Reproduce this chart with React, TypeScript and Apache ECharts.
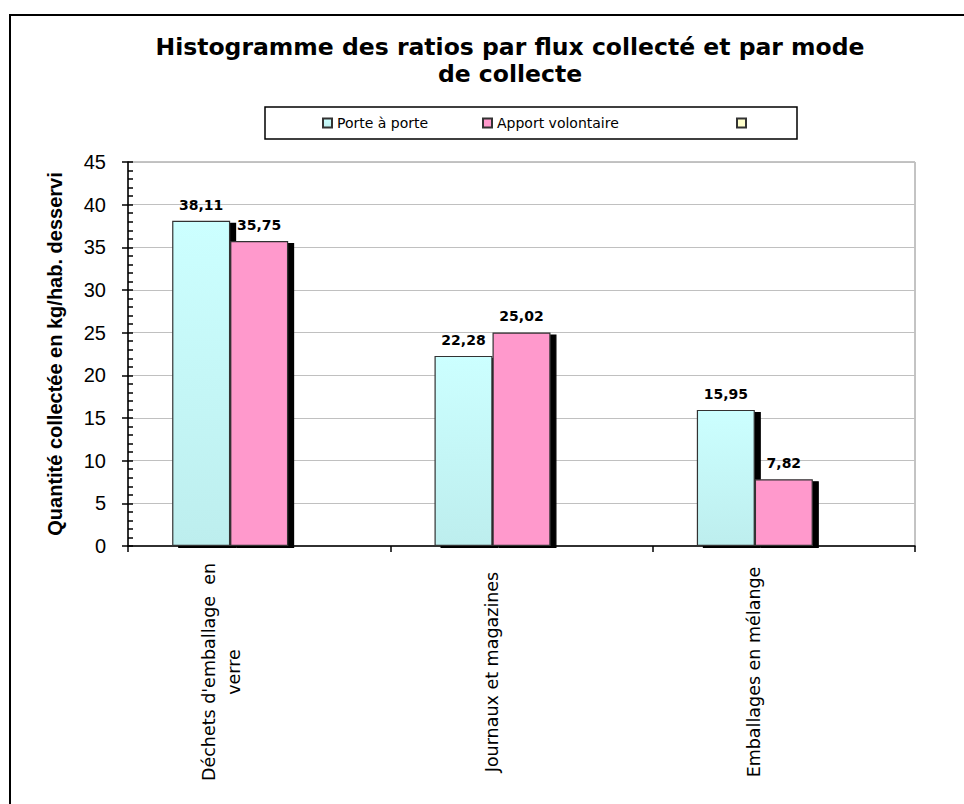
import React, { useEffect, useRef } from "react";
import * as echarts from "echarts";

const categories = ["Déchets d'emballage  en\nverre", "Journaux et magazines", "Emballages en mélange"];
const seriesNames = ["Porte à porte", "Apport volontaire", " "];
const porteAPorte = [38.11, 22.28, 15.95];
const apportVolontaire = [35.75, 25.02, 7.82];
const serie3: (number | null)[] = [null, null, null];
const yTicks = { min: 0, max: 45, interval: 5 };
const titleLines = ["Histogramme des ratios par flux collecté et par mode", "de collecte"];
const yAxisName = "Quantité collectée en kg/hab. desservi";

export default function App() {
  const ref = useRef<HTMLDivElement>(null);
  useEffect(() => {
    const chart = echarts.init(ref.current!, null, { renderer: "svg" });
    const fmt = (p: any) => String(p.value).replace(".", ",");
    const barCommon = {
      type: "bar",
      barWidth: 58,
      barGap: "0%",
      label: {
        show: true,
        position: "top",
        distance: 9,
        formatter: fmt,
        fontFamily: "DejaVu Sans",
        fontWeight: "bold",
        fontSize: 14,
        color: "#000",
      },
    };
    const legendBase = {
      orient: "horizontal",
      top: 116,
      padding: 0,
      itemWidth: 9,
      itemHeight: 9,
      icon: "rect",
      textStyle: { fontFamily: "DejaVu Sans", fontSize: 14, color: "#000" },
      selectedMode: false,
    };
    // trailing empty lines shift the rotated labels to the left of the tick, as in the reference
    const catData = categories.map((c) => {
      const twoLines = c.includes("\n");
      return {
        value: c + "\n\n\n",
        textStyle: { lineHeight: twoLines ? 25 : 20, align: "center" },
      };
    });
    chart.setOption({
      animation: false,
      backgroundColor: "#fff",
      title: {
        text: titleLines.join("\n"),
        left: 505,
        textAlign: "center",
        top: 28,
        textStyle: { fontFamily: "DejaVu Sans", fontWeight: "bold", fontSize: 23.5, lineHeight: 27, color: "#000" },
      },
      graphic: [
        { type: "rect", shape: { x: 10, y: 15, width: 1000, height: 1000 }, style: { fill: "none", stroke: "#000", lineWidth: 2 }, silent: true },
        { type: "rect", shape: { x: 265, y: 107, width: 532, height: 32 }, style: { fill: "#fff", stroke: "#000", lineWidth: 1.5 }, silent: true, z: -1 },
      ],
      legend: [
        { ...legendBase, left: 322, data: [seriesNames[0]] },
        { ...legendBase, left: 482, data: [seriesNames[1]] },
        { ...legendBase, left: 736, data: [seriesNames[2]] },
      ],
      grid: {
        left: 128,
        right: 49,
        top: 162,
        bottom: 258,
        show: true,
        borderColor: "#888",
        borderWidth: 1,
        containLabel: false,
        outerBoundsMode: "none",
      },
      xAxis: {
        type: "category",
        data: catData,
        axisLine: { lineStyle: { color: "#000", width: 1.5 } },
        axisTick: { show: true, length: 6, lineStyle: { color: "#000", width: 1.5 } },
        axisLabel: {
          rotate: 90,
          align: "center",
          margin: 126,
          fontFamily: "DejaVu Sans",
          fontSize: 17.5,
          color: "#000",
        },
      },
      yAxis: [
        {
          type: "value",
          min: yTicks.min,
          max: yTicks.max,
          interval: yTicks.interval,
          name: yAxisName,
          nameLocation: "middle",
          nameGap: 63,
          nameTextStyle: { fontFamily: "Liberation Sans", fontWeight: "bold", fontSize: 20, color: "#000" },
          axisLine: { show: true, lineStyle: { color: "#000", width: 1.5 } },
          axisTick: { show: true, length: 6, lineStyle: { color: "#000", width: 1.5 } },
          axisLabel: { margin: 22, fontFamily: "Liberation Sans", fontSize: 20, color: "#000" },
          splitLine: { show: true, lineStyle: { color: "#c0c0c0", width: 1 } },
        },
        {
          type: "value",
          min: yTicks.min,
          max: yTicks.max,
          interval: yTicks.interval,
          position: "left",
          axisLine: { show: false },
          axisTick: { show: true, inside: true, length: 5, lineStyle: { color: "#000", width: 1.5 } },
          minorTick: { show: true, splitNumber: 5, length: 5, lineStyle: { color: "#000", width: 1.5 } },
          axisLabel: { show: false },
          splitLine: { show: false },
        },
      ],
      series: [
        {
          ...barCommon,
          name: seriesNames[0],
          data: porteAPorte,
          itemStyle: {
            color: new echarts.graphic.LinearGradient(0, 0, 0, 1, [
              { offset: 0, color: "#ccffff" },
              { offset: 1, color: "#bdeeee" },
            ]),
            borderColor: "#333",
            borderWidth: 1.2,
            shadowColor: "#000",
            shadowBlur: 0,
            shadowOffsetX: 6,
            shadowOffsetY: 2,
          },
        },
        {
          ...barCommon,
          name: seriesNames[1],
          data: apportVolontaire,
          itemStyle: {
            color: "#ff99cc",
            borderColor: "#333",
            borderWidth: 1.2,
            shadowColor: "#000",
            shadowBlur: 0,
            shadowOffsetX: 6,
            shadowOffsetY: 2,
          },
        },
        {
          ...barCommon,
          name: seriesNames[2],
          data: serie3,
          itemStyle: { color: "#ffffcc", borderColor: "#333", borderWidth: 1.2 },
        },
      ],
    });
    return () => chart.dispose();
  }, []);
  return <div ref={ref} style={{ position: "absolute", left: 0, top: 0, width: 964, height: 804 }} />;
}
